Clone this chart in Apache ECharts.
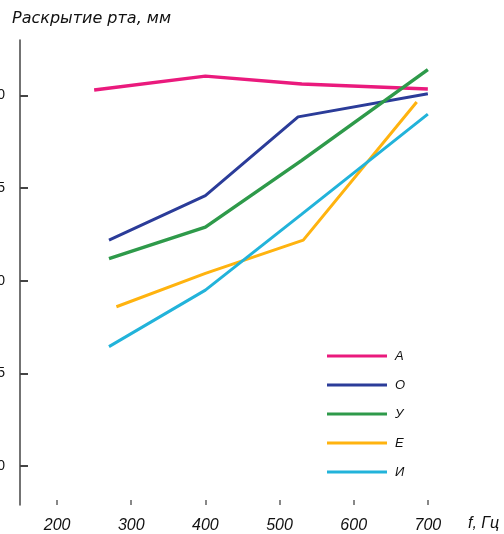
<!DOCTYPE html>
<html>
<head>
<meta charset="utf-8">
<script src="https://cdn.jsdelivr.net/npm/echarts@6/dist/echarts.min.js"></script>
<style>html,body{margin:0;padding:0;background:#fff;}#c{width:504px;height:534px;}</style>
</head>
<body>
<div id="c"></div>
<script>
// Categories / series names
const seriesNames = ['А', 'О', 'У', 'Е', 'И'];
// Frequencies (Hz) and mouth opening (mm) for each vowel
const freqA = [250, 400, 530, 700];
const valA  = [20.3, 21.05, 20.62, 20.36];
const freqO = [270, 400, 525, 700];
const valO  = [12.2, 14.6, 18.85, 20.1];
const freqU = [270, 400, 530, 700];
const valU  = [11.2, 12.9, 16.5, 21.4];
const freqE = [280, 400, 532, 685];
const valE  = [8.6, 10.4, 12.2, 19.65];
const freqI = [270, 400, 530, 700];
const valI  = [6.45, 9.5, 13.6, 19.0];
// Tick values
const xTicks = [200, 300, 400, 500, 600, 700];
const yTicks = [0, 5, 10, 15, 20];

const colors = ['#ea1a7d', '#2b3c99', '#2e9a4a', '#ffb30f', '#22b3da'];
const widths = [3.5, 3, 3.5, 3, 3];
const freqs = [freqA, freqO, freqU, freqE, freqI];
const vals = [valA, valO, valU, valE, valI];

const font = 'Liberation Sans, Arial, sans-serif';

const chart = echarts.init(document.getElementById('c'), null, {renderer: 'canvas'});
chart.setOption({
  animation: false,
  backgroundColor: '#ffffff',
  grid: {left: 20, right: 2, top: 40, bottom: 29, containLabel: false, outerBoundsMode: 'none'},
  xAxis: {
    type: 'value', min: 150, max: 800,
    axisLine: {show: false, onZero: false},
    splitLine: {show: false},
    axisTick: {show: true, inside: true, length: 5, customValues: xTicks, lineStyle: {color: '#888', width: 2}},
    axisLabel: {customValues: xTicks, margin: 13, fontSize: 16, fontStyle: 'italic', color: '#111', fontFamily: font}
  },
  yAxis: {
    type: 'value', min: -2.1, max: 23,
    axisLine: {show: true, lineStyle: {color: '#444', width: 1.5}},
    splitLine: {show: false},
    axisTick: {show: true, inside: true, length: 8, customValues: yTicks, lineStyle: {color: '#444', width: 2}},
    axisLabel: {customValues: yTicks, margin: 15, fontSize: 14, color: '#111', fontFamily: font}
  },
  legend: {
    orient: 'vertical', left: 322, top: 343,
    itemWidth: 60, itemHeight: 3, itemGap: 13, icon: 'rect',
    data: seriesNames,
    textStyle: {fontSize: 13, fontStyle: 'italic', color: '#111', lineHeight: 16, fontFamily: font, padding: [0, 0, 0, 3]}
  },
  graphic: [
    {type: 'text', left: 12, top: 11, style: {text: 'Раскрытие рта, мм', font: 'italic 16px DejaVu Sans, sans-serif', fill: '#111'}},
    {type: 'text', left: 468, top: 516, style: {text: 'f, Гц', font: 'italic 16px ' + font, fill: '#111'}}
  ],
  series: seriesNames.map((n, i) => ({
    name: n, type: 'line', showSymbol: false, symbol: 'none',
    data: freqs[i].map((f, j) => [f, vals[i][j]]),
    lineStyle: {color: colors[i], width: widths[i]},
    itemStyle: {color: colors[i]}
  }))
});
</script>
</body>
</html>
